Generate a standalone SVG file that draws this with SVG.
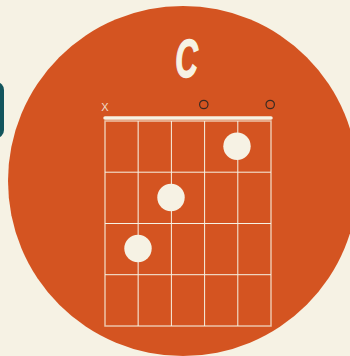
<svg xmlns="http://www.w3.org/2000/svg" width="350" height="356" viewBox="0 0 350 356">
<style>
.grid{stroke:#f6f2e4;stroke-width:1;fill:none}
.frame{stroke:#f6f2e4;stroke-width:1.5;fill:none;opacity:0.7}
.dot{fill:#f6f2e4}
.open{fill:none;stroke:#3a2a22;stroke-width:1.2}
</style>
<rect width="350" height="356" fill="#f6f2e4"/>
<rect id="tab" x="-40" y="82" width="44" height="56" rx="8" fill="#13555c"/>
<circle id="disc" cx="183" cy="181" r="175" fill="#d45421"/>
<text id="title" transform="translate(186.5 77) scale(0.58 1)" text-anchor="middle" font-family="'Liberation Sans',sans-serif" font-weight="bold" font-style="italic" font-size="54" fill="#f6f2e4" stroke="#f6f2e4" stroke-width="1.5">C</text>
<g id="chart">
<rect class="frame" x="105" y="121" width="166" height="205"/>
<g class="grid">
<line x1="138.2" y1="121" x2="138.2" y2="326" opacity="0.7" stroke-width="1.5"/>
<line x1="171.4" y1="121" x2="171.4" y2="326"/>
<line x1="204.6" y1="121" x2="204.6" y2="326"/>
<line x1="237.8" y1="121" x2="237.8" y2="326"/>
<line x1="105" y1="172.2" x2="271" y2="172.2"/>
<line x1="105" y1="223.5" x2="271" y2="223.5"/>
<line x1="105" y1="274.7" x2="271" y2="274.7"/>
</g>
<line id="nut" x1="105" y1="118" x2="271" y2="118" stroke="#f6f2e4" stroke-width="3.5" stroke-linecap="round"/>
</g>
<g id="markers">
<text x="105" y="110.5" text-anchor="middle" font-family="'Liberation Sans',sans-serif" font-size="11" fill="#f6f2e4" opacity="0.85">X</text>
<circle class="open" cx="203.8" cy="104.5" r="4.2"/>
<circle class="open" cx="270.2" cy="104.5" r="4.2"/>
</g>
<g id="dots">
<circle class="dot" cx="237" cy="146.3" r="13.7"/>
<circle class="dot" cx="171" cy="197.5" r="13.7"/>
<circle class="dot" cx="138" cy="248.5" r="13.7"/>
</g>
</svg>
